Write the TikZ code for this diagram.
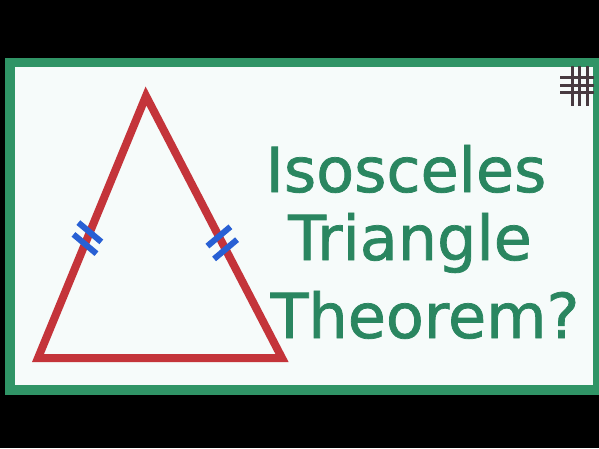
\documentclass[tikz,border=0pt]{standalone}
\usepackage{fontspec}
\setmainfont{DejaVu Sans}
\newfontfamily\titlefont[FakeBold=1.2]{DejaVu Sans}
\usetikzlibrary{calc}
\definecolor{framegreen}{RGB}{48,148,102}
\definecolor{textgreen}{RGB}{42,134,96}
\definecolor{trired}{RGB}{196,52,58}
\definecolor{tickblue}{RGB}{40,96,212}
\definecolor{hashgray}{RGB}{72,58,64}
\definecolor{paper}{RGB}{246,251,250}
\tikzset{
  tri/.style={draw=trired, line width=8pt, line join=miter},
  tickmark/.style={draw=tickblue, line width=6pt},
  hashline/.style={draw=hashgray, line width=3pt},
  title/.style={text=textgreen, font=\titlefont\fontsize{62}{62}\selectfont, inner sep=0pt, anchor=base}
}
\begin{document}
\begin{tikzpicture}[x=1pt,y=-1pt]
\useasboundingbox (0,0) rectangle (599,448);
\fill[black] (0,0) rectangle (599,448);
\fill[framegreen] (5,58) rectangle (599,395);
\fill[paper] (15,67) rectangle (593,385);
% triangle
\coordinate (A) at (146,96);
\coordinate (B) at (38,358);
\coordinate (C) at (282,358);
\draw[tri] (A) -- (B) -- (C) -- cycle;
% tick marks
\coordinate (L1) at ($(B)!0.435!(A)$);
\coordinate (L2) at ($(B)!0.48!(A)$);
\coordinate (R1) at ($(A)!0.536!(C)$);
\coordinate (R2) at ($(A)!0.585!(C)$);
\foreach \p in {L1, L2}{
  \draw[tickmark] (\p) ++(220:15) -- ++(40:30);
}
\foreach \p in {R1, R2}{
  \draw[tickmark] (\p) ++(140:15) -- ++(-40:30);
}
% hash mark
\foreach \x in {572,579,587}{
  \draw[hashline] (\x,66) -- (\x,106);
}
\foreach \y in {77,85,92}{
  \draw[hashline] (560,\y) -- (594,\y);
}
% title
\node[title] (t1) at (406,192) {Isosceles};
\node[title] (t2) at (410,260) {Triangle};
\node[title] (t3) at (425,338) {Theorem?};
\end{tikzpicture}
\end{document}
